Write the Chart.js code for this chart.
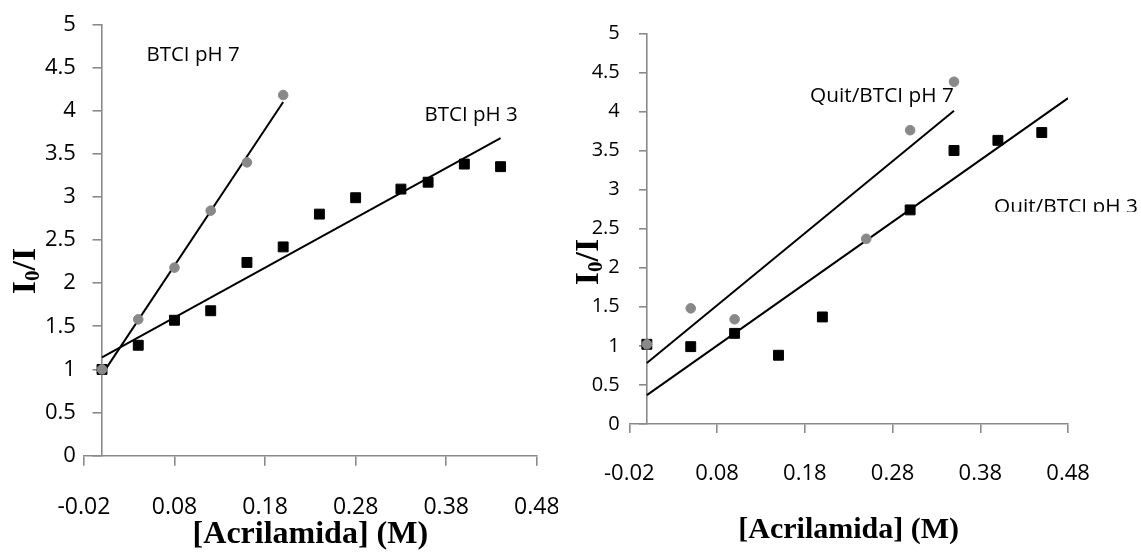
<!DOCTYPE html>
<html>
<head>
<meta charset="utf-8">
<script src="https://cdn.jsdelivr.net/npm/chart.js@4.4.1/dist/chart.umd.min.js"></script>
<style>
  html, body { margin: 0; padding: 0; background: #ffffff; }
  #wrap { position: relative; width: 1141px; height: 554px; overflow: hidden; }
  #leftChart { position: absolute; left: 0; top: 0; }
  #rightChart { position: absolute; left: 558px; top: 0; }
</style>
</head>
<body>
<div id="wrap">
  <canvas id="leftChart" width="558" height="554"></canvas>
  <canvas id="rightChart" width="583" height="554"></canvas>
</div>
<script>
// Stern-Volmer plots: quenching of BTCI fluorescence by acrylamide

// Axis ticks (shared by both panels)
const xTickValues = [-0.02, 0.08, 0.18, 0.28, 0.38, 0.48];
const xTickLabels = ['-0.02', '0.08', '0.18', '0.28', '0.38', '0.48'];
const yTickValues = [0, 0.5, 1, 1.5, 2, 2.5, 3, 3.5, 4, 4.5, 5];
const yTickLabels = ['0', '0.5', '1', '1.5', '2', '2.5', '3', '3.5', '4', '4.5', '5'];

// Left panel: BTCI
const btciPh7X = [0, 0.04, 0.08, 0.12, 0.16, 0.20];
const btciPh7Y = [1.00, 1.58, 2.18, 2.84, 3.40, 4.18];
const btciPh3X = [0, 0.04, 0.08, 0.12, 0.16, 0.20, 0.24, 0.28, 0.33, 0.36, 0.40, 0.44];
const btciPh3Y = [1.00, 1.28, 1.57, 1.68, 2.24, 2.42, 2.80, 2.99, 3.09, 3.17, 3.38, 3.35];
const btciPh7FitX = [0, 0.20];
const btciPh7FitY = [0.94, 4.10];
const btciPh3FitX = [0, 0.44];
const btciPh3FitY = [1.14, 3.68];

// Right panel: Quit/BTCI
const quitPh7X = [0, 0.05, 0.10, 0.25, 0.30, 0.35];
const quitPh7Y = [1.02, 1.48, 1.34, 2.37, 3.76, 4.38];
const quitPh3X = [0, 0.05, 0.10, 0.15, 0.20, 0.30, 0.35, 0.40, 0.45];
const quitPh3Y = [1.02, 0.99, 1.16, 0.88, 1.37, 2.74, 3.50, 3.63, 3.73];
const quitPh7FitX = [0, 0.35];
const quitPh7FitY = [0.78, 4.01];
const quitPh3FitX = [0, 0.48];
const quitPh3FitY = [0.37, 4.17];

// Series names written next to the data
const leftNames = ['BTCI pH 7', 'BTCI pH 3'];
const rightNames = ['Quit/BTCI pH 7', 'Quit/BTCI pH 3'];
const xTitle = '[Acrilamida] (M)';

const GREY_MARK = '#898989';
const AXIS = '#8a8a8a';
const AXIS_W = 1.6;
const SANS = '"Open Sans", "Noto Sans", sans-serif';
const SERIF = '"Liberation Serif", "Times New Roman", serif';
const LABEL_AXIS_W = 60;

const pts = (xs, ys) => xs.map((v, i) => ({ x: v, y: ys[i] }));

// Free text placed in data coordinates
const textLabels = {
  id: 'textLabels',
  afterDatasetsDraw(chart, args, opts) {
    const { ctx, scales: { x, y } } = chart;
    ctx.save();
    ctx.font = opts.font;
    ctx.fillStyle = '#000';
    ctx.textAlign = 'left';
    ctx.textBaseline = 'alphabetic';
    opts.items.forEach(it => {
      const px = x.getPixelForValue(it.x);
      const py = y.getPixelForValue(it.y);
      ctx.save();
      if (it.cutAtBaseline) {
        // text box of this label is cropped just above its baseline
        ctx.beginPath();
        ctx.rect(0, 0, chart.width, py - 1);
        ctx.clip();
      }
      ctx.fillText(it.text, px, py);
      ctx.restore();
    });
    ctx.restore();
  }
};

// Vertical axis title I0/I with subscript zero
const yTitle = {
  id: 'yTitle',
  afterDraw(chart, args, opts) {
    const { ctx } = chart;
    const big = `bold ${opts.size}px ${SERIF}`;
    const small = `bold ${Math.round(opts.size * 0.62)}px ${SERIF}`;
    const parts = [
      { t: 'I', f: big, dy: 0 },
      { t: '0', f: small, dy: opts.size * 0.12 },
      { t: '/I', f: big, dy: 0 }
    ];
    ctx.save();
    ctx.translate(opts.x, opts.y);
    ctx.rotate(-Math.PI / 2);
    ctx.fillStyle = '#000';
    ctx.textAlign = 'left';
    ctx.textBaseline = 'alphabetic';
    let total = 0;
    parts.forEach(p => { ctx.font = p.f; p.w = ctx.measureText(p.t).width; total += p.w; });
    let cx = -total / 2;
    parts.forEach(p => { ctx.font = p.f; ctx.fillText(p.t, cx, opts.base + p.dy); cx += p.w; });
    ctx.restore();
  }
};

function makePanel(canvasId, d, o) {
  const yMin = yTickValues[0];
  const yMax = yTickValues[yTickValues.length - 1];
  return new Chart(document.getElementById(canvasId), {
    type: 'scatter',
    data: {
      datasets: [
        { data: pts(d.p7x, d.p7y), pointStyle: 'circle', pointRadius: 4.8,
          backgroundColor: GREY_MARK, borderColor: GREY_MARK, borderWidth: 1 },
        { data: pts(d.p3x, d.p3y), pointStyle: 'rect', pointRadius: 7,
          backgroundColor: '#000', borderColor: '#000', borderWidth: 1 },
        { data: pts(d.f7x, d.f7y), showLine: true, pointRadius: 0,
          borderColor: '#000', borderWidth: 2, fill: false },
        { data: pts(d.f3x, d.f3y), showLine: true, pointRadius: 0,
          borderColor: '#000', borderWidth: 2, fill: false }
      ]
    },
    options: {
      responsive: false,
      animation: false,
      events: [],
      layout: { padding: { left: o.padL - LABEL_AXIS_W, right: o.padR, top: o.padT, bottom: 0 } },
      plugins: {
        legend: { display: false },
        tooltip: { enabled: false },
        textLabels: { font: `${o.labelSize}px ${SANS}`, items: o.labels },
        yTitle: { x: o.yTitleX, y: o.yTitleY, base: o.yTitleBase, size: o.yTitleSize }
      },
      scales: {
        x: {
          type: 'linear',
          position: 'bottom',
          min: xTickValues[0],
          max: xTickValues[xTickValues.length - 1],
          afterBuildTicks: s => { s.ticks = xTickValues.map(v => ({ value: v })); },
          afterFit: s => { s.height = o.xAxisH; s.paddingLeft = 0; s.paddingRight = 0; },
          ticks: {
            autoSkip: false, maxRotation: 0, minRotation: 0,
            padding: o.xTickPad, color: '#000',
            font: { family: SANS, size: o.xTickSize },
            callback: (v, i) => xTickLabels[i]
          },
          grid: { drawOnChartArea: false, drawTicks: true, tickLength: o.xTickLen,
                  color: AXIS, lineWidth: AXIS_W },
          border: { display: true, color: AXIS, width: AXIS_W },
          title: {
            display: true, text: xTitle, color: '#000',
            font: { family: SERIF, size: o.xTitleSize, weight: 'bold' },
            padding: { top: 0, bottom: o.xTitlePadB }
          }
        },
        // value axis drawn where x = 0: line and tick marks
        y: {
          type: 'linear',
          position: { x: 0 },
          min: yMin,
          max: yMax,
          afterBuildTicks: s => { s.ticks = yTickValues.map(v => ({ value: v })); },
          afterFit: s => { s.paddingTop = 0; s.paddingBottom = 0; },
          ticks: { display: false },
          grid: { drawOnChartArea: false, drawTicks: true, tickLength: o.yTickLen,
                  color: AXIS, lineWidth: AXIS_W },
          border: { display: true, color: AXIS, width: AXIS_W }
        },
        // tick numbers of the value axis, at the left edge of the plot
        yNum: {
          type: 'linear',
          position: 'left',
          min: yMin,
          max: yMax,
          afterBuildTicks: s => { s.ticks = yTickValues.map(v => ({ value: v })); },
          afterFit: s => { s.width = LABEL_AXIS_W; s.paddingTop = 0; s.paddingBottom = 0; },
          ticks: {
            autoSkip: false, padding: o.yTickPad, color: '#000',
            font: { family: SANS, size: o.yTickSize },
            callback: (v, i) => yTickLabels[i]
          },
          grid: { display: false, drawTicks: false },
          border: { display: false }
        }
      }
    },
    plugins: [textLabels, yTitle]
  });
}

makePanel('leftChart',
  { p7x: btciPh7X, p7y: btciPh7Y, p3x: btciPh3X, p3y: btciPh3Y,
    f7x: btciPh7FitX, f7y: btciPh7FitY, f3x: btciPh3FitX, f3y: btciPh3FitY },
  { padL: 83.9, padR: 21.2, padT: 24.3, xAxisH: 98.3,
    xTickPad: 27.5, xTickLen: 10, xTickSize: 23,
    yTickPad: 8, yTickLen: 8.5, yTickSize: 22,
    xTitleSize: 32, xTitlePadB: 0,
    yTitleX: 23, yTitleY: 271, yTitleBase: 11.8, yTitleSize: 34,
    labelSize: 20.5,
    labels: [
      { text: leftNames[0], x: 0.049, y: 4.574 },
      { text: leftNames[1], x: 0.356, y: 3.882 }
    ] });

makePanel('rightChart',
  { p7x: quitPh7X, p7y: quitPh7Y, p3x: quitPh3X, p3y: quitPh3Y,
    f7x: quitPh7FitX, f7y: quitPh7FitY, f3x: quitPh3FitX, f3y: quitPh3FitY },
  { padL: 71.3, padR: 72.9, padT: 33.3, xAxisH: 130,
    xTickPad: 27.6, xTickLen: 9, xTickSize: 22,
    yTickPad: 9.5, yTickLen: 7, yTickSize: 20,
    xTitleSize: 30, xTitlePadB: 5.4,
    yTitleX: 28.5, yTitleY: 262, yTitleBase: 11.8, yTitleSize: 34,
    labelSize: 20.8,
    labels: [
      { text: rightNames[0], x: 0.186, y: 4.119 },
      { text: rightNames[1], x: 0.3956, y: 2.704, cutAtBaseline: true }
    ] });
</script>
</body>
</html>
